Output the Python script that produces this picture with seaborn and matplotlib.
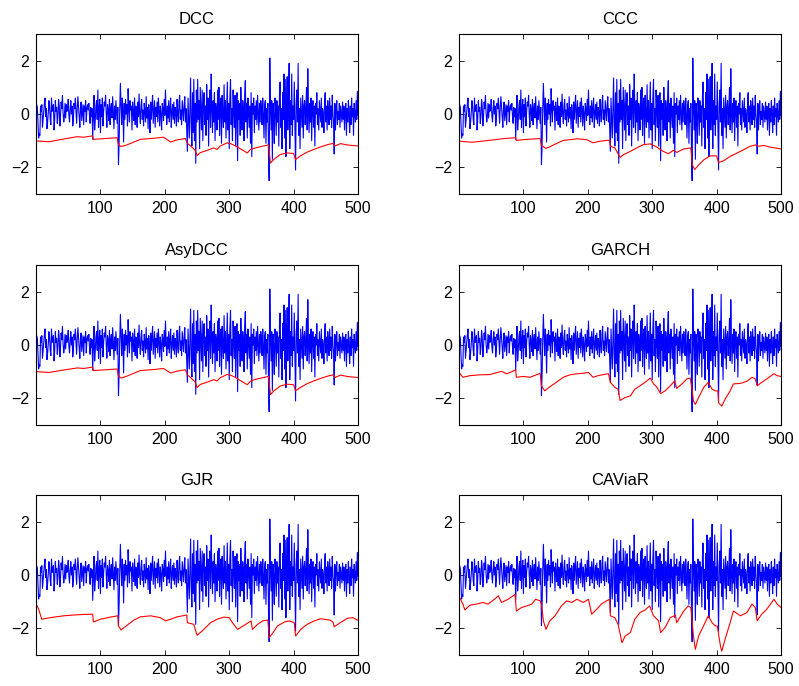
import numpy as np
import pandas as pd
import matplotlib
matplotlib.use("Agg")
import matplotlib.pyplot as plt
import seaborn as sns

# Daily returns (t = 1..500)
returns = [
    0.35, 0.25, -0.35, -0.9, -0.75, -0.8, 0.3, 0.1, 0.35, -0.5, -0.2, 0.1, 0.4, 0.6, -0.1, 0.2, -0.55, -0.3, 0.05, 0.5, 0.3, -0.2, -0.4, 0.6, 0.1,
    0.25, 0.35, -0.6, -0.2, 0.5, 0.1, 0.25, -0.35, -0.1, 0.55, 0.3, -0.45, -0.1, 0.45, 0.2, 0.7, 0.05, -0.3, -0.1, 0.4, -0.15, 0.35, 0.1, 0.25, 0.55,
    -0.05, -0.3, 0.2, 0.5, 0.0, 0.3, -0.45, -0.2, 0.4, 0.2, 0.6, 0.1, -0.35, 0.25, 0.65, 0.3, -0.1, -0.5, 0.2, 0.45, -0.25, 0.05, 0.35, -0.4, 0.3,
    0.1, 0.5, -0.3, 0.2, 0.35, 0.15, 0.4, -0.05, -0.35, 0.25, -0.1, 0.2, -0.95, 0.0, 0.7, -0.6, -0.2, 0.3, 0.5, -0.2, 0.9, -0.5, 0.2, 0.55, -0.7,
    0.35, -0.1, 0.6, -0.45, 0.1, 0.45, 0.3, 0.7, 0.0, -0.5, 0.35, 0.15, -0.25, 0.55, -0.4, 0.2, 0.4, -0.15, 0.65, 0.05, -0.55, 0.3, -0.2, 0.5, 0.1,
    -0.35, 0.25, -1.9, -1.1, 0.2, 1.15, 0.3, -0.4, 0.6, 0.1, -1.05, 0.4, -0.2, 0.55, 0.0, 0.35, -0.45, 0.95, 0.2, -0.3, 0.5, 0.15, 0.3, -0.6, 0.45,
    0.05, -0.25, 0.6, -0.4, 0.3, 0.1, -0.5, 0.45, -0.1, 0.75, 0.0, -0.35, 0.3, 0.55, -0.2, 0.15, -0.45, 0.4, 0.1, -0.3, 0.65, -0.15, 0.25, -0.55, 0.35,
    0.0, -0.7, 0.45, -0.2, 0.3, 0.7, -0.35, 0.1, 0.5, -0.5, 0.25, -0.1, 0.45, -0.3, 0.6, 0.15, -0.45, 0.3, 0.0, -0.6, 0.4, 0.2, -0.25, 0.55, -0.05,
    0.9, 0.1, -0.4, 0.3, -0.15, 0.5, -0.3, 0.2, 0.6, -0.5, 0.05, 0.35, -0.2, 0.45, -0.35, 0.25, 0.1, -0.45, 0.55, 0.0, -0.3, 0.4, 0.7, -0.2, 0.15,
    -0.4, 0.5, 0.1, -0.25, 0.35, 0.65, -0.3, 0.2, -0.6, -1.4, 0.6, -0.2, -0.9, 0.3, 1.35, -0.5, -1.2, 0.8, -0.7, 1.3, -1.0, 0.4, -1.85, 0.9, -0.3,
    1.3, -0.2, 0.5, -1.3, 1.0, 0.2, -0.6, 0.9, -1.0, 0.4, 0.8, -0.4, 0.3, -0.8, 1.1, -0.2, 0.6, -1.2, 0.3, 0.9, -0.5, 1.5, 0.2, -0.7, 0.5,
    -0.3, 0.8, -1.0, 0.4, 0.1, -0.6, 0.9, -0.2, 1.0, -0.8, 0.3, 0.6, -1.1, 0.7, 0.0, -0.5, 1.1, -0.3, 0.5, -0.9, 0.2, 1.2, -0.6, 0.4, -1.3,
    0.6, 1.3, -0.4, 0.2, -1.0, 0.9, 0.1, -0.5, 0.7, -1.2, 0.3, 0.8, -1.75, 0.5, -0.2, 0.4, -0.8, 1.0, 0.0, -0.6, 0.5, 0.2, -1.0, 0.7, 1.25,
    -0.3, 0.4, -0.9, 0.6, 0.1, -0.5, 0.3, -1.1, 0.8, -1.6, 0.4, 0.0, 0.6, -0.7, 0.3, -0.2, 0.5, -0.4, 0.7, 0.1, -0.6, 0.4, -0.3, 0.5, 0.2,
    -0.4, 0.6, 0.0, -0.9, 0.3, 0.5, -1.1, 0.2, -0.3, 0.4, -1.4, -2.5, 2.1, 0.3, -0.6, 0.5, -1.7, 0.4, 0.0, -1.1, 0.6, 0.2, -0.8, 0.5, -0.3,
    0.3, -1.2, 0.7, 1.2, -0.5, 0.2, -1.3, 0.8, -0.2, 1.5, -0.9, 1.3, -1.6, 0.4, 1.4, -0.6, 0.2, 1.9, -1.3, 0.5, -0.4, 1.5, -0.8, 0.3, -0.2,
    1.2, -0.5, -2.1, 0.4, 0.9, -0.3, 1.9, -0.8, 0.2, -1.3, 0.6, 0.0, -0.5, 0.7, -0.9, 0.3, 0.5, -0.4, 0.2, 1.0, -0.6, 1.7, 0.1, -0.7, 0.4,
    -0.3, 0.6, -1.0, 0.2, 0.5, -0.5, 0.3, -1.2, 0.4, 0.0, 0.8, -0.4, 0.2, -0.6, 0.5, 0.1, -0.3, 0.6, -0.5, 0.2, 0.0, -0.7, 0.4, 0.8, -0.3,
    0.3, -0.6, 0.5, 0.1, -0.4, 0.6, -0.2, 0.3, -0.5, 0.7, 0.0, -0.3, -1.5, 0.4, -0.6, 0.2, 0.5, -0.4, 0.1, -0.2, 0.4, -0.5, 0.3, 0.0, -0.3,
    0.45, -0.2, 0.3, -0.6, 0.1, 0.4, -0.8, 0.2, -0.3, 0.5, 0.0, -0.7, 0.3, -0.4, 0.6, -0.1, 0.2, -0.8, 0.4, 0.0, -0.3, 0.5, -0.2, 0.85, -0.05,
]
days = list(range(1, len(returns) + 1))

# Value-at-Risk forecasts per model: (day, VaR) pairs
dcc_t = [1, 20, 40, 64, 74, 88, 89, 126, 128, 132, 141, 152, 162, 183, 198, 203, 209, 219, 232, 235, 240, 247, 250, 255, 265,
         276, 281, 286, 297, 302, 310, 315, 322, 328, 333, 338, 346, 353, 361, 364, 369, 379, 390, 400, 403, 410, 421, 431,
         441, 454, 462, 464, 473, 483, 500]
dcc_v = [-1.01, -1.04, -0.95, -0.85, -0.87, -0.82, -0.95, -0.89, -1.15, -1.22, -1.16, -1.05, -0.95, -0.91, -0.87, -0.95, -1.05, -0.97, -0.92, -1.1, -1.2, -1.35, -1.56, -1.45, -1.37,
         -1.27, -1.33, -1.2, -1.08, -1.11, -1.2, -1.27, -1.37, -1.46, -1.33, -1.29, -1.24, -1.2, -1.16, -1.84, -1.71, -1.52, -1.46, -1.48, -1.71, -1.58, -1.43, -1.33,
         -1.24, -1.14, -1.1, -1.2, -1.11, -1.16, -1.2]

ccc_t = [1, 20, 50, 70, 88, 89, 100, 126, 128, 135, 141, 151, 162, 183, 198, 208, 219, 234, 235, 242, 250, 255, 266, 276,
         286, 297, 307, 317, 325, 333, 338, 349, 360, 362, 366, 372, 380, 390, 400, 403, 411, 421, 432, 442, 452, 460,
         465, 473, 483, 500]
ccc_v = [-1.02, -1.06, -0.98, -0.92, -0.89, -0.99, -0.96, -0.92, -1.18, -1.29, -1.23, -1.11, -0.99, -0.93, -0.96, -1.08, -1.02, -0.98, -1.21, -1.27, -1.63, -1.53, -1.4, -1.27,
         -1.15, -1.12, -1.24, -1.4, -1.49, -1.36, -1.44, -1.31, -1.27, -1.9, -2.08, -1.91, -1.72, -1.57, -1.57, -1.82, -1.75, -1.59, -1.46, -1.34, -1.21, -1.16,
         -1.21, -1.18, -1.24, -1.31]

asy_t = [1, 20, 40, 64, 74, 88, 89, 126, 128, 132, 141, 152, 162, 183, 198, 203, 209, 219, 232, 235, 240, 247, 250, 255, 265,
         276, 281, 286, 297, 302, 310, 315, 322, 328, 333, 338, 346, 353, 361, 364, 369, 379, 390, 400, 403, 410, 421, 431,
         441, 454, 462, 464, 473, 483, 500]
asy_v = [-1.0, -1.03, -0.95, -0.86, -0.88, -0.83, -0.96, -0.9, -1.17, -1.24, -1.17, -1.06, -0.96, -0.92, -0.88, -0.96, -1.05, -0.98, -0.93, -1.12, -1.22, -1.38, -1.6, -1.48, -1.4,
         -1.3, -1.35, -1.23, -1.1, -1.13, -1.22, -1.3, -1.4, -1.49, -1.36, -1.31, -1.26, -1.22, -1.18, -1.86, -1.73, -1.54, -1.47, -1.49, -1.72, -1.6, -1.45, -1.35,
         -1.26, -1.16, -1.12, -1.22, -1.13, -1.18, -1.22]

garch_t = [1, 6, 17, 32, 48, 58, 66, 74, 81, 88, 89, 100, 110, 120, 126, 128, 133, 141, 151, 162, 172, 183, 193, 201, 208,
           216, 224, 232, 235, 242, 247, 250, 258, 266, 273, 281, 289, 297, 302, 307, 313, 320, 328, 335, 338, 346, 354,
           359, 362, 364, 367, 372, 380, 387, 393, 398, 402, 403, 408, 413, 421, 426, 437, 447, 455, 460, 463, 470, 478,
           489, 494, 500]
garch_v = [-1.06, -1.21, -1.15, -1.12, -1.11, -1.04, -0.99, -1.08, -1.01, -0.93, -1.21, -1.18, -1.21, -1.12, -1.06, -1.53, -1.72, -1.57, -1.4, -1.21, -1.12, -1.08, -1.06, -1.03, -1.21,
           -1.15, -1.11, -1.08, -1.4, -1.59, -1.66, -2.08, -1.97, -1.91, -1.66, -1.53, -1.4, -1.24, -1.46, -1.57, -1.82, -1.72, -1.53, -1.34, -1.63, -1.46, -1.27,
           -1.24, -1.7, -2.1, -2.23, -1.97, -1.59, -1.4, -1.66, -1.72, -1.72, -2.17, -2.29, -2.04, -1.72, -1.46, -1.44, -1.36, -1.21, -1.27, -1.53, -1.4, -1.27,
           -1.08, -1.15, -1.18]

gjr_t = [1, 4, 9, 22, 43, 58, 74, 88, 89, 100, 115, 127, 128, 132, 141, 152, 162, 178, 193, 201, 209, 219, 234, 235, 245,
         250, 258, 271, 281, 292, 300, 305, 313, 323, 334, 336, 344, 352, 360, 362, 368, 375, 386, 393, 401, 403, 411,
         421, 432, 442, 456, 461, 463, 474, 484, 492, 500]
gjr_v = [-1.13, -1.28, -1.66, -1.6, -1.53, -1.5, -1.48, -1.47, -1.76, -1.66, -1.58, -1.53, -1.91, -2.06, -1.89, -1.69, -1.57, -1.53, -1.6, -1.72, -1.66, -1.57, -1.5, -1.79, -1.85,
         -2.26, -2.1, -1.79, -1.66, -1.58, -1.6, -1.79, -2.04, -1.89, -1.72, -2.04, -1.85, -1.72, -1.69, -2.35, -2.16, -1.91, -1.76, -1.72, -1.79, -2.29, -2.04,
         -1.85, -1.72, -1.64, -1.69, -1.76, -1.94, -1.76, -1.62, -1.6, -1.7]

caviar_t = [1, 6, 9, 17, 27, 37, 45, 55, 61, 66, 76, 87, 89, 97, 105, 113, 119, 126, 128, 131, 135, 141, 149, 159, 167,
            175, 183, 193, 201, 206, 214, 221, 229, 234, 235, 242, 247, 253, 258, 266, 273, 281, 289, 296, 302, 310, 313,
            320, 328, 336, 338, 349, 356, 360, 364, 367, 372, 377, 382, 387, 393, 398, 401, 406, 408, 413, 421, 426, 437,
            447, 455, 460, 463, 470, 478, 489, 494, 500]
caviar_v = [-0.84, -1.09, -1.31, -1.13, -1.09, -1.03, -1.09, -0.91, -0.78, -1.03, -0.91, -0.73, -1.35, -1.22, -1.16, -1.09, -0.91, -0.97, -1.09, -1.72, -2.04, -1.72, -1.53, -1.16, -0.97,
            -1.03, -0.91, -1.03, -0.91, -1.47, -1.28, -1.09, -0.97, -0.91, -1.53, -1.6, -1.85, -2.54, -2.29, -2.16, -1.66, -1.41, -1.31, -1.16, -1.53, -1.72, -2.16,
            -1.97, -1.6, -1.51, -1.79, -1.35, -1.16, -1.22, -2.29, -2.79, -2.29, -2.04, -1.79, -1.53, -1.79, -1.91, -1.91, -2.67, -2.86, -2.42, -1.79, -1.35, -1.53,
            -1.41, -1.09, -1.22, -1.72, -1.47, -1.28, -0.91, -1.09, -1.22]

titles = ["DCC", "CCC", "AsyDCC", "GARCH", "GJR", "CAViaR"]
var_t = [dcc_t, ccc_t, asy_t, garch_t, gjr_t, caviar_t]
var_v = [dcc_v, ccc_v, asy_v, garch_v, gjr_v, caviar_v]
x_ticks = [100, 200, 300, 400, 500]
y_ticks = [-2, 0, 2]

sns.set_theme(style="white")
plt.rcParams["font.family"] = ["Liberation Sans", "DejaVu Sans"]

ret_df = pd.DataFrame({"day": days, "ret": returns})

fig = plt.figure(figsize=(7.99, 6.86), dpi=100)
col_x = [0.0451, 0.5745]
col_w = 0.4030
row_y = [0.7172, 0.3805, 0.0452]
row_h = 0.2332

for k, name in enumerate(titles):
    r, c = divmod(k, 2)
    ax = fig.add_axes([col_x[c], row_y[r], col_w, row_h])
    sns.lineplot(data=ret_df, x="day", y="ret", ax=ax, color="#0000ff",
                 linewidth=0.8, estimator=None, sort=False)
    var_df = pd.DataFrame({"day": var_t[k], "var": var_v[k]})
    sns.lineplot(data=var_df, x="day", y="var", ax=ax, color="#ff0000",
                 linewidth=0.8, estimator=None, sort=False)
    ax.set_xlim(0, 500)
    ax.set_ylim(-3, 3)
    ax.set_xticks(x_ticks)
    ax.set_yticks(y_ticks)
    ax.set_xlabel("")
    ax.set_ylabel("")
    ax.set_title(name, fontsize=12, pad=7, color="black")
    ax.tick_params(direction="in", length=3.5, width=0.6, labelsize=11.5,
                   top=True, right=True, bottom=True, left=True,
                   colors="black", pad=5)
    for s in ax.spines.values():
        s.set_visible(True)
        s.set_color("black")
        s.set_linewidth(0.8)

fig.savefig("out.png", dpi=100, facecolor="white")
